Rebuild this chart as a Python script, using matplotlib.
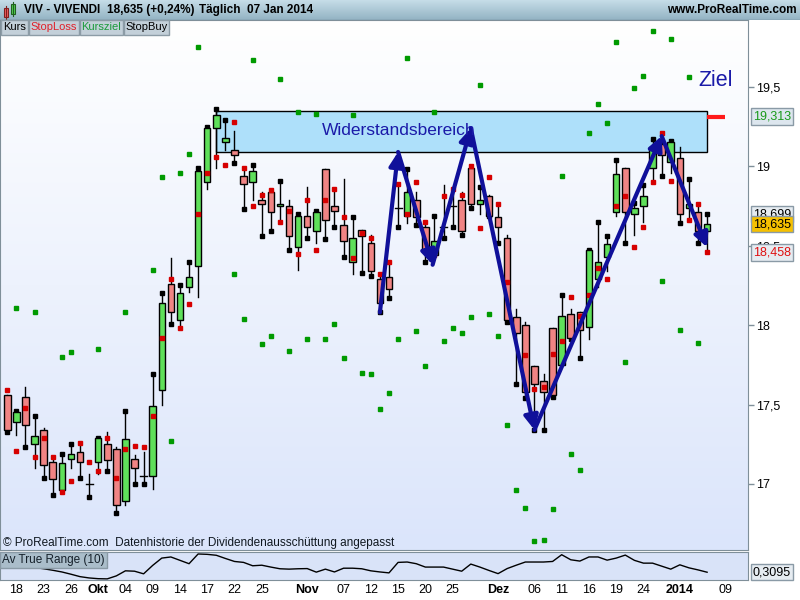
import numpy as np
import matplotlib
matplotlib.use('Agg')
import matplotlib.pyplot as plt
from matplotlib.patches import Rectangle
from matplotlib.colors import LinearSegmentedColormap
from matplotlib.transforms import blended_transform_factory

plt.rcParams['font.family'] = ['Liberation Sans', 'DejaVu Sans']

nan = np.nan

# daily OHLC, 17 Sep 2013 .. 07 Jan 2014 (trading days)
opens = [17.56, 17.39, 17.55, 17.25, 17.34, 17.14, 16.96, 17.16, 17.20, 17.00,
         17.14, 17.25, 17.22, 16.89, 17.16, 17.05, 17.05, 17.59, 18.26, 18.03,
         18.24, 18.37, 18.90, 19.24, 19.15, 19.10, 18.94, 18.90, 18.79, 18.84,
         18.75, 18.75, 18.49, 18.69, 18.59, 18.98, 18.75, 18.63, 18.40, 18.60,
         18.52, 18.29, 18.30, 18.74, 18.69, 18.79, 18.62, 18.44, 18.62, 18.75,
         18.79, 18.99, 18.76, 18.81, 18.68, 18.55, 18.05, 18.00, 17.74, 17.65,
         17.98, 17.75, 18.07, 18.08, 17.99, 18.29, 18.43, 18.71, 18.99, 18.70,
         18.75, 18.99, 19.14, 19.03, 19.05, 18.74, 18.71, 18.59]
highs = [17.56, 17.46, 17.61, 17.43, 17.35, 17.16, 17.19, 17.25, 17.26, 17.06,
         17.29, 17.33, 17.23, 17.46, 17.18, 17.20, 17.69, 18.20, 18.42, 18.25,
         18.40, 18.99, 19.25, 19.36, 19.29, 19.22, 18.98, 19.01, 18.84, 18.85,
         18.91, 18.79, 18.70, 18.87, 18.72, 18.98, 18.84, 18.92, 18.68, 18.60,
         18.57, 18.32, 18.39, 18.89, 18.98, 18.84, 18.65, 18.69, 18.88, 18.86,
         18.84, 19.00, 18.87, 18.82, 18.76, 18.57, 18.10, 18.02, 17.74, 17.69,
         17.98, 18.19, 18.10, 18.08, 18.47, 18.65, 18.56, 19.04, 18.99, 18.77,
         18.88, 19.17, 19.16, 19.16, 19.12, 18.92, 18.76, 18.699]
lows = [17.33, 17.31, 17.23, 17.10, 17.04, 16.93, 16.95, 17.10, 17.04, 16.92,
        17.06, 17.08, 16.82, 16.87, 17.00, 17.00, 16.97, 17.50, 18.01, 17.98,
        18.21, 18.18, 18.86, 18.99, 19.10, 19.02, 18.73, 18.79, 18.56, 18.59,
        18.65, 18.47, 18.35, 18.55, 18.52, 18.54, 18.62, 18.43, 18.32, 18.33,
        18.31, 18.08, 18.17, 18.62, 18.64, 18.63, 18.40, 18.41, 18.55, 18.62,
        18.57, 18.74, 18.70, 18.69, 18.52, 18.02, 17.63, 17.54, 17.34, 17.34,
        17.55, 17.74, 17.91, 17.79, 17.91, 18.24, 18.34, 18.69, 18.52, 18.57,
        18.65, 18.90, 18.94, 18.96, 18.64, 18.68, 18.52, 18.47]
closes = [17.34, 17.45, 17.37, 17.30, 17.12, 17.03, 17.13, 17.19, 17.14, 17.00,
          17.29, 17.15, 16.87, 17.28, 17.10, 17.05, 17.49, 18.14, 18.08, 18.20,
          18.30, 18.97, 19.24, 19.32, 19.18, 19.07, 18.89, 18.97, 18.76, 18.71,
          18.76, 18.56, 18.69, 18.62, 18.71, 18.66, 18.72, 18.53, 18.55, 18.56,
          18.34, 18.14, 18.23, 18.74, 18.84, 18.68, 18.47, 18.53, 18.62, 18.75,
          18.59, 18.76, 18.79, 18.69, 18.62, 18.03, 17.95, 17.58, 17.63, 17.58,
          17.56, 18.06, 17.92, 17.97, 18.47, 18.40, 18.51, 18.95, 18.71, 18.74,
          18.81, 19.12, 19.07, 19.15, 18.70, 18.76, 18.59, 18.635]

# StopLoss (red) and Kursziel (green) points
stop_loss = [17.59, 17.21, 17.48, 17.17, 17.29, 17.17, 16.95, 17.02, 17.26, 17.14,
             17.08, 17.29, 17.04, 17.22, 17.24, 17.23, 17.43, 17.92, 18.29, 17.98,
             18.13, 18.70, 18.96, 19.06, 19.01, 19.28, 18.99, 18.75, 18.82, 18.85,
             18.65, 18.72, 18.45, 18.79, 18.47, 18.79, 18.86, 18.68, 18.42, 18.58,
             18.55, 18.32, 18.40, 18.89, 18.70, 18.90, 18.65, 18.44, 18.81, 18.86,
             18.82, 19.00, 18.61, 18.93, 18.76, 18.27, nan, 17.81, 17.60, 17.61,
             17.82, 17.90, 18.18, 18.06, 18.19, 18.36, 18.29, 18.75, 18.81, 18.49,
             18.62, 18.90, 19.21, 18.91, nan, 18.66, 18.76, 18.458]
kursziel = [nan, 18.11, nan, 18.08, nan, nan, 17.80, 17.83, nan, nan,
            17.85, nan, nan, 18.08, nan, nan, 18.35, 18.93, 17.27, 18.96,
            19.08, 19.75, nan, nan, nan, 18.32, 18.04, 19.67, 17.88, 17.93,
            19.55, 17.84, 19.34, 17.91, 19.33, 17.91, 18.01, 17.79, 19.32, 17.70,
            17.69, 17.47, 17.57, 17.91, 19.68, 17.96, 17.74, 19.34, 17.90, 17.98,
            17.95, 18.05, 19.51, 18.07, 17.93, 17.37, 16.96, 16.85, 16.64, 16.65,
            16.84, 18.94, 17.19, 17.09, 19.21, 19.39, 19.27, 19.78, 17.77, 19.49,
            19.57, 19.85, 18.28, 19.80, 17.97, 19.56, 17.89, nan]

# Average True Range (10)
atr = [0.333, 0.331, 0.333, 0.335, 0.328, 0.320, 0.311, 0.299, 0.286, 0.279,
       0.275, 0.274, 0.290, 0.317, 0.315, 0.301, 0.346, 0.385, 0.391, 0.373,
       0.355, 0.407, 0.405, 0.400, 0.383, 0.367, 0.362, 0.344, 0.347, 0.337,
       0.328, 0.326, 0.328, 0.329, 0.310, 0.326, 0.311, 0.331, 0.331, 0.328,
       0.317, 0.311, 0.306, 0.362, 0.364, 0.355, 0.337, 0.337, 0.337, 0.326,
       0.315, 0.353, 0.337, 0.319, 0.302, 0.329, 0.347, 0.364, 0.364, 0.364,
       0.367, 0.403, 0.376, 0.369, 0.391, 0.391, 0.374, 0.385, 0.401, 0.373,
       0.358, 0.358, 0.342, 0.326, 0.349, 0.333, 0.322, 0.3095]

tick_pos = [1, 4, 7, 10, 13, 16, 19, 22, 25, 28, 33, 37, 40, 43, 46, 49,
            54, 58, 61, 64, 67, 70, 74, 79]
tick_txt = ['18', '23', '26', 'Okt', '04', '09', '14', '17', '22', '25', 'Nov',
            '07', '12', '15', '20', '25', 'Dez', '06', '11', '16', '19', '24',
            '2014', '09']
bold_txt = ['Okt', 'Nov', 'Dez', '2014']

# drawn annotations
zone_x = [23, 77]
zone_y = [19.087, 19.35]
arrow_x = [41, 43, 46.8, 51, 58, 72, 77]
arrow_y = [18.08, 19.09, 18.38, 19.24, 17.34, 19.19, 18.49]
target_level = 19.313
price_ticks = [17, 17.5, 18, 18.5, 19, 19.5]

W, H = 800, 600


def px(x0, y0, x1, y1):
    return [x0 / W, 1 - y1 / H, (x1 - x0) / W, (y1 - y0) / H]


fig = plt.figure(figsize=(8, 6), dpi=100, facecolor='white')
ax = fig.add_axes(px(0, 20, 748, 550))
ax_atr = fig.add_axes(px(0, 552, 748, 580))
head = fig.add_axes(px(0, 0, 800, 20))

xmin, xmax = -0.8, 81.5
ymin, ymax = 16.584, 19.921
spine_col = '#7f8f99'

# background gradient
bg = LinearSegmentedColormap.from_list('bg', ['#ffffff', '#dbe5fb'])
ax.imshow(np.linspace(0, 1, 256).reshape(-1, 1), cmap=bg, aspect='auto',
          extent=[xmin, xmax, ymin, ymax], origin='upper', zorder=0)

# resistance zone
ax.add_patch(Rectangle((zone_x[0], zone_y[0]), zone_x[1] - zone_x[0],
                       zone_y[1] - zone_y[0], facecolor='#aee0fa',
                       edgecolor='black', lw=1, zorder=1))

# candles
for i in range(len(opens)):
    o, h, l, c = opens[i], highs[i], lows[i], closes[i]
    ax.plot([i, i], [l, h], color='black', lw=1, zorder=2)
    if c > o:
        ax.plot(i, h, 's', ms=2.4, color='black', zorder=2)
    else:
        ax.plot(i, l, 's', ms=2.4, color='black', zorder=2)
    if abs(c - o) < 0.005:
        ax.plot([i - 0.38, i + 0.38], [o, o], color='black', lw=1, zorder=3)
    else:
        ax.add_patch(Rectangle((i - 0.36, min(o, c)), 0.72, abs(c - o),
                               facecolor='#5fe05a' if c > o else '#f08484',
                               edgecolor='black', lw=1, zorder=3))

idx = np.arange(len(opens))
ax.plot(idx, kursziel, 's', ms=2.6, color='#009a00', zorder=4, lw=0)
ax.plot(idx, stop_loss, 's', ms=2.6, color='#d60000', zorder=4, lw=0)

# trend arrows
for k in range(len(arrow_x) - 1):
    ax.annotate('', xy=(arrow_x[k + 1], arrow_y[k + 1]),
                xytext=(arrow_x[k], arrow_y[k]),
                arrowprops=dict(arrowstyle='-|>,head_length=0.6,head_width=0.3',
                                color='#10109a', lw=3, shrinkA=0, shrinkB=0,
                                mutation_scale=14), zorder=5)

ax.text(43.1, 19.225, 'Widerstandsbereich', ha='center', va='center',
        fontsize=12.5, color='#1a1aa8', zorder=6)
ax.text(77.9, 19.54, 'Ziel', ha='center', va='center', fontsize=15.5,
        color='#1a1aa8', zorder=6)
ax.plot([77, 79], [target_level, target_level], color='#ff1a1a', lw=3,
        solid_capstyle='butt', zorder=6)

ax.text(0.004, 0.013, '© ProRealTime.com  Datenhistorie der Dividendenausschüttung angepasst',
        transform=ax.transAxes, fontsize=8.5, va='center', color='#101820')

ax.set_xlim(xmin, xmax)
ax.set_ylim(ymin, ymax)
ax.set_xticks([])
ax.yaxis.tick_right()
ax.set_yticks(price_ticks)
ax.set_yticklabels([f'{t:g}'.replace('.', ',') for t in price_ticks])
ax.tick_params(axis='y', direction='out', length=4, width=1, color=spine_col,
               labelsize=9, pad=2)
for s in ax.spines.values():
    s.set_color(spine_col)

# value boxes on the price axis
trans = blended_transform_factory(ax.transAxes, ax.transData)
box_style = [(target_level, '#1a9a1a', '#dde6ee'),
             (highs[-1], 'black', '#e6ecf1'),
             (closes[-1], 'black', '#f5c000'),
             (stop_loss[-1], '#e01010', '#e6ecf1')]
for val, tc, fc in box_style:
    ax.text(1.0065, val, f'{val:.3f}'.replace('.', ','), transform=trans,
            ha='left', va='center', fontsize=9, color=tc, clip_on=False,
            zorder=10, bbox=dict(boxstyle='square,pad=0.18', fc=fc,
                                 ec='#8a9aa6', lw=1))

# tabs
tabs = [(1, 28, 'Kurs', 'black'), (29, 79, 'StopLoss', '#e0202a'),
        (80, 123, 'Kursziel', '#1a9a3a'), (124, 169, 'StopBuy', 'black')]
for x0, x1, label, col in tabs:
    fig.add_artist(Rectangle((x0 / W, 1 - 35 / H), (x1 - x0) / W, 15 / H,
                             transform=fig.transFigure, facecolor='#c3d0d9',
                             edgecolor='#8c9ca6', lw=1, zorder=20))
    fig.text((x0 + x1) / 2 / W, 1 - 27.5 / H, label, ha='center', va='center',
             fontsize=8, color=col, zorder=21)

# ATR panel
ax_atr.set_facecolor('#d9e3f8')
ax_atr.plot(idx, atr, color='black', lw=1)
ax_atr.set_xlim(xmin, xmax)
ax_atr.set_ylim(0.268, 0.4175)
ax_atr.set_yticks([])
ax_atr.set_xticks(tick_pos)
ax_atr.set_xticklabels(tick_txt, fontsize=9)
for lab in ax_atr.get_xticklabels():
    if lab.get_text() in bold_txt:
        lab.set_fontweight('bold')
ax_atr.tick_params(axis='x', length=0, pad=3)
for s in ax_atr.spines.values():
    s.set_color(spine_col)
ax_atr.text(0.003, 0.93, 'Av True Range (10)', transform=ax_atr.transAxes,
            ha='left', va='top', fontsize=8.5, color='#15202a',
            bbox=dict(boxstyle='square,pad=0.2', fc='#aabdca', ec='#8a9aa6', lw=1))
trans2 = blended_transform_factory(ax_atr.transAxes, ax_atr.transData)
ax_atr.text(1.0065, atr[-1], f'{atr[-1]:.4f}'.replace('.', ','), transform=trans2,
            ha='left', va='center', fontsize=9, clip_on=False,
            bbox=dict(boxstyle='square,pad=0.18', fc='#e6ecf1', ec='#8a9aa6', lw=1))

# header bar
hg = LinearSegmentedColormap.from_list('hd', ['#c6dde8', '#93b3c3'])
head.imshow(np.linspace(0, 1, 64).reshape(-1, 1), cmap=hg, aspect='auto',
            extent=[0, 800, 20, 0])
head.set_xlim(0, 800)
head.set_ylim(20, 0)
head.axis('off')
head.add_patch(Rectangle((4, 8), 4, 9, fc='#f06060', ec='#802020', lw=0.8))
head.plot([6, 6], [6, 19], color='#802020', lw=0.8)
head.add_patch(Rectangle((11, 4), 4, 10, fc='#50d050', ec='#206020', lw=0.8))
head.plot([13, 13], [2, 16], color='#206020', lw=0.8)
head.text(24, 10, 'VIV - VIVENDI', fontsize=8.5, fontweight='bold', va='center')
head.text(107, 10, '18,635 (+0,24%)', fontsize=8.5, fontweight='bold', va='center')
head.text(199, 10, 'Täglich  07 Jan 2014', fontsize=8.5, fontweight='bold', va='center')
head.text(797, 10, 'www.ProRealTime.com', fontsize=8.5, fontweight='bold',
          va='center', ha='right')
head.plot([0, 800], [19.5, 19.5], color='#6f8490', lw=1)

fig.savefig('out.png', dpi=100, facecolor='white')
